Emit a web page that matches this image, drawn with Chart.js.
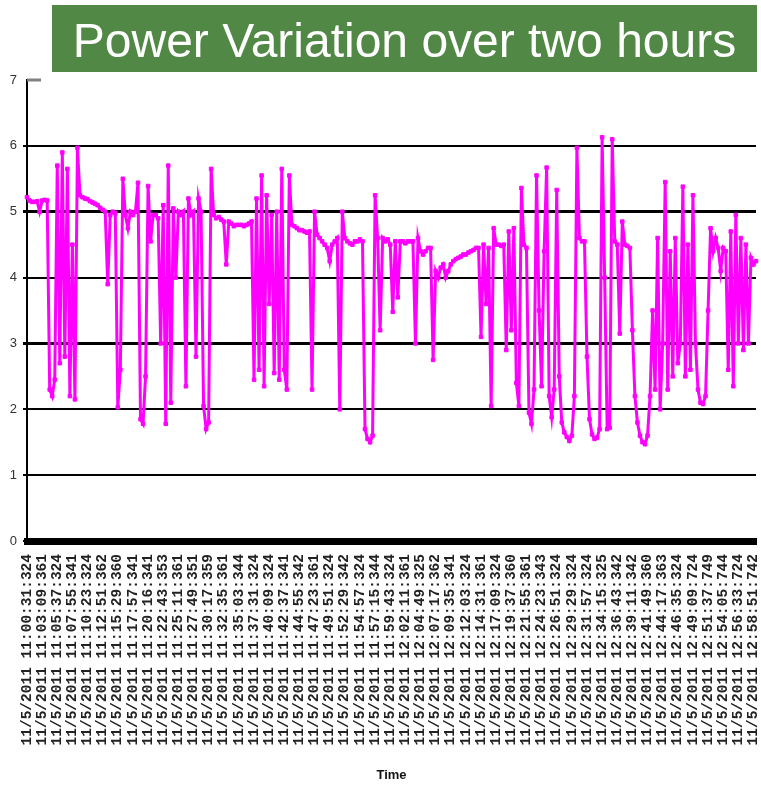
<!DOCTYPE html>
<html>
<head>
<meta charset="utf-8">
<title>Power Variation over two hours</title>
<script src="https://cdn.jsdelivr.net/npm/chart.js@4.4.0/dist/chart.umd.min.js"></script>
<style>
    body { margin: 0; background: #fff; }
    canvas { display: block; }
</style>
</head>
<body>
<canvas id="powerChart" width="761" height="787"></canvas>
<script>
(function () {
    "use strict";

    // tick labels, one every 6 samples
    const logDate = '11/5/2011';
    const tickTimes = [
        '11:00:31:324', '11:03:09:361', '11:05:37:324', '11:07:55:341', '11:10:23:324',
        '11:12:51:362', '11:15:29:360', '11:17:57:341', '11:20:16:341', '11:22:43:353',
        '11:25:11:361', '11:27:49:351', '11:30:17:359', '11:32:35:361', '11:35:03:344',
        '11:37:31:324', '11:40:09:324', '11:42:37:341', '11:44:55:342', '11:47:23:361',
        '11:49:51:324', '11:52:29:342', '11:54:57:324', '11:57:15:344', '11:59:43:324',
        '12:02:11:361', '12:04:49:325', '12:07:17:362', '12:09:35:341', '12:12:03:324',
        '12:14:31:361', '12:17:09:324', '12:19:37:360', '12:21:55:361', '12:24:23:343',
        '12:26:51:324', '12:29:29:324', '12:31:57:324', '12:34:15:325', '12:36:43:342',
        '12:39:11:342', '12:41:49:360', '12:44:17:363', '12:46:35:324', '12:49:09:724',
        '12:51:37:749', '12:54:05:744', '12:56:33:724', '12:58:51:742'
    ];
    const samplesPerTick = 6;

    // power readings
    const powerValues = [
        5.22, 5.17, 5.15, 5.15, 5.16, 5.0, 5.17, 5.18, 5.17, 2.3,
        2.2, 2.45, 5.7, 2.7, 5.9, 2.8, 5.65, 2.2, 4.5, 2.15,
        5.97, 5.25, 5.22, 5.2, 5.19, 5.16, 5.14, 5.12, 5.1, 5.06,
        5.03, 5.0, 3.9, 4.95, 5.0, 4.98, 2.03, 2.6, 5.5, 4.95,
        4.75, 5.0, 4.95, 5.0, 5.44, 1.85, 1.78, 2.5, 5.39, 4.55,
        4.95, 4.95, 4.9, 3.0, 5.1, 1.78, 5.7, 2.1, 5.05, 4.0,
        5.0, 4.95, 5.0, 2.35, 5.2, 4.95, 5.0, 2.8, 5.2, 5.0,
        2.05, 1.7, 1.8, 5.65, 4.95, 4.9, 4.92, 4.88, 4.85, 4.2,
        4.85, 4.82, 4.78, 4.8, 4.8, 4.8, 4.78, 4.8, 4.82, 4.85,
        2.45, 5.2, 2.6, 5.55, 2.35, 5.25, 3.6, 4.95, 2.55, 5.0,
        2.45, 5.65, 2.6, 2.3, 5.55, 4.8, 4.78, 4.75, 4.72, 4.72,
        4.7, 4.68, 4.7, 2.3, 5.0, 4.65, 4.6, 4.55, 4.5, 4.45,
        4.25, 4.5, 4.55, 4.6, 2.0, 5.0, 4.6, 4.55, 4.52, 4.5,
        4.55, 4.55, 4.58, 4.55, 1.7, 1.55, 1.5, 1.6, 5.25, 4.6,
        3.2, 4.6, 4.55, 4.58, 4.5, 3.48, 4.55, 3.7, 4.55, 4.55,
        4.52, 4.55, 4.55, 4.55, 3.0, 4.6, 4.4, 4.35, 4.4, 4.45,
        4.45, 2.75, 4.1, 4.0, 4.15, 4.2, 4.0, 4.1, 4.2, 4.25,
        4.28, 4.3, 4.32, 4.35, 4.35, 4.38, 4.4, 4.42, 4.45, 4.45,
        3.1, 4.5, 3.6, 4.45, 2.05, 4.75, 4.5, 4.5, 4.48, 4.5,
        2.9, 4.7, 3.2, 4.75, 2.4, 2.05, 5.36, 4.5, 4.45, 1.95,
        1.78, 2.3, 5.55, 3.5, 2.35, 4.4, 5.67, 2.2, 1.88, 2.3,
        5.33, 2.5, 1.8, 1.65, 1.58, 1.52, 1.6, 2.2, 5.97, 4.6,
        4.55, 4.55, 2.8, 1.85, 1.62, 1.55, 1.57, 1.7, 6.13, 4.0,
        1.7, 1.72, 6.1, 4.55, 4.5, 3.15, 4.85, 4.5, 4.48, 4.45,
        3.2, 2.2, 1.8, 1.6, 1.5, 1.47, 1.6, 2.2, 3.5, 2.3,
        4.6, 2.0, 3.0, 5.45, 2.3, 4.4, 2.5, 4.6, 2.7, 3.0,
        5.38, 2.5, 4.5, 2.6, 5.25, 3.0, 2.3, 2.1, 2.08, 2.2,
        3.5, 4.75, 4.4, 4.6, 4.45, 4.1, 4.45, 4.4, 2.6, 4.7,
        2.35, 4.95, 3.0, 4.6, 2.9, 4.5, 3.0, 4.3, 4.2, 4.25
    ];

    const labels = powerValues.map(function (v, i) {
        const t = tickTimes[i / samplesPerTick];
        return (i % samplesPerTick === 0 && t) ? logDate + ' ' + t : '';
    });

    // green banner behind the title, grey stub at the top of the y axis
    const titleBanner = {
        id: 'titleBanner',
        afterLayout(chart) {
            const t = chart.titleBlock;
            if (t) {
                t.left = 52;
                t.right = 757;
            }
        },
        beforeDraw(chart) {
            const ctx = chart.ctx;
            ctx.save();
            ctx.fillStyle = '#528845';
            ctx.fillRect(52, 5, 705, 67);
            ctx.restore();
        },
        afterDraw(chart) {
            const ctx = chart.ctx;
            const area = chart.chartArea;
            ctx.save();
            ctx.strokeStyle = '#808080';
            ctx.lineWidth = 3;
            ctx.beginPath();
            ctx.moveTo(area.left, area.top);
            ctx.lineTo(area.left + 14, area.top);
            ctx.stroke();
            ctx.restore();
        }
    };

    const ctx = document.getElementById('powerChart').getContext('2d');
    new Chart(ctx, {
        type: 'line',
        data: {
            labels: labels,
            datasets: [{
                label: 'Power',
                data: powerValues,
                borderColor: '#ff00ff',
                backgroundColor: '#ff00ff',
                borderWidth: 3,
                pointStyle: 'rect',
                pointRadius: 2.5,
                pointBorderWidth: 1,
                pointBorderColor: '#ff00ff',
                tension: 0,
                fill: false
            }]
        },
        options: {
            responsive: false,
            animation: false,
            layout: { padding: { top: 0, right: 1, bottom: 0, left: 0 } },
            plugins: {
                legend: { display: false },
                tooltip: { enabled: false },
                title: {
                    display: true,
                    text: 'Power Variation over two hours',
                    color: '#ffffff',
                    font: { family: "'Liberation Sans', Arial, sans-serif", size: 48, weight: 'normal', lineHeight: 1 },
                    padding: { top: 20, bottom: 12 }
                }
            },
            scales: {
                x: {
                    type: 'category',
                    offset: false,
                    grid: { display: false, drawTicks: false },
                    border: { display: true, color: '#000', width: 7 },
                    ticks: {
                        autoSkip: false,
                        minRotation: 90,
                        maxRotation: 90,
                        padding: 13,
                        color: '#222',
                        font: { family: "'Liberation Mono', monospace", size: 14.5, weight: 'bold' }
                    },
                    title: {
                        display: true,
                        text: 'Time',
                        color: '#111',
                        font: { family: "'Liberation Sans', Arial, sans-serif", size: 13, weight: 'bold' },
                        padding: { top: 4, bottom: 4 }
                    },
                    afterFit(scale) {
                        scale.paddingLeft = 0;
                        scale.paddingRight = 0;
                        scale.height = 246;
                    }
                },
                y: {
                    min: 0,
                    max: 7,
                    ticks: {
                        stepSize: 1,
                        padding: 6,
                        color: '#333',
                        font: { family: "'Liberation Sans', Arial, sans-serif", size: 13 }
                    },
                    grid: {
                        color: c => (c.tick && c.tick.value === 7) ? 'rgba(0,0,0,0)' : '#000',
                        lineWidth: c => (c.tick && (c.tick.value === 5 || c.tick.value === 3)) ? 3 : 2,
                        tickLength: 4
                    },
                    border: { color: '#000', width: 2 },
                    afterFit(scale) {
                        scale.width = 27;
                        scale.paddingTop = 0;
                        scale.paddingBottom = 0;
                    }
                }
            }
        },
        plugins: [titleBanner]
    });
})();
</script>
</body>
</html>
